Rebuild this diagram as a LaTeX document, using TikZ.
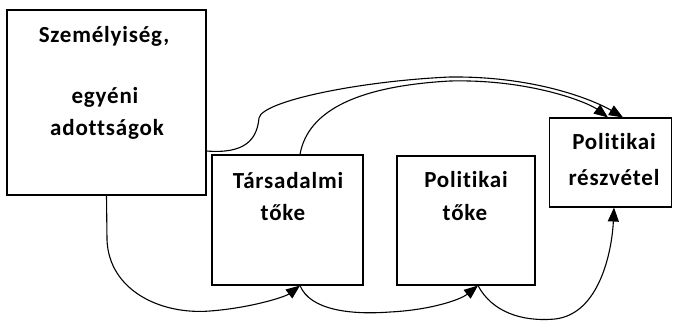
\documentclass[tikz,border=0pt]{standalone}
\usepackage{fontspec}
\setmainfont[Ligatures=NoCommon,LetterSpace=3.5]{Carlito}
\usetikzlibrary{arrows.meta,calc}
\begin{document}
\begin{tikzpicture}[x=1pt,y=-1pt,
  box/.style={draw,line width=1.1pt,minimum width=#1,inner sep=0pt},
  lbl/.style={font=\fontsize{23}{26}\selectfont\bfseries,inner sep=0pt,anchor=base},
  conn/.style={line width=1.1pt,-{Triangle[length=14pt,width=11pt]}}]
\useasboundingbox (0,0) rectangle (673,322);
\node[box=199pt,minimum height=185pt] (A) at (106.5,102.5) {};
\node[box=151pt,minimum height=130pt] (B) at (287.5,220) {};
\node[box=138pt,minimum height=129pt] (C) at (466,220.5) {};
\node[box=122pt,minimum height=89pt] (D) at (610.5,162.5) {};
\node[lbl] (a1) at (104,42) {Személyiség,};
\node[lbl] (a2) at (105,103) {egyéni};
\node[lbl] (a3) at (107,135) {adottságok};
\node[lbl] (b1) at (288,188) {Társadalmi};
\node[lbl] (b2) at (283,220) {tőke};
\node[lbl] (c1) at (466,187) {Politikai};
\node[lbl] (c2) at (465,220) {tőke};
\node[lbl] (d1) at (614,149) {Politikai};
\node[lbl] (d2) at (614,185) {részvétel};
% outer curve A -> D
\draw[conn] ([yshift=-48.5pt]A.east) .. controls +(38,3) and +(-2,22) .. (259,118)
  .. controls +(3,-17) and +(-90,4) .. (450,77)
  .. controls +(90,-1) and +(-25,-15) .. ([xshift=12.5pt]D.north);
% inner curve B -> D
\draw[conn] ([xshift=12.5pt]B.north) .. controls +(8,-45) and +(-90,5) .. (450,81)
  .. controls +(80,-2) and +(-20,-15) .. ([xshift=-2.5pt]D.north);
% A -> B
\draw[conn] (A.south) -- (107,240) .. controls (109,290) and (160,315) .. (210,311)
  .. controls (250,308) and (285,297) .. ([xshift=12.5pt]B.south);
% B -> C
\draw[conn] ([xshift=12.5pt]B.south) .. controls (310,310) and (350,315) .. (390,312)
  .. controls (430,310) and (460,300) .. ([xshift=12pt]C.south);
% C -> D
\draw[conn] ([xshift=12pt]C.south) .. controls (492,312) and (522,322) .. (555,319)
  .. controls (600,314) and (612,250) .. ([xshift=3.5pt]D.south);
\end{tikzpicture}
\end{document}
